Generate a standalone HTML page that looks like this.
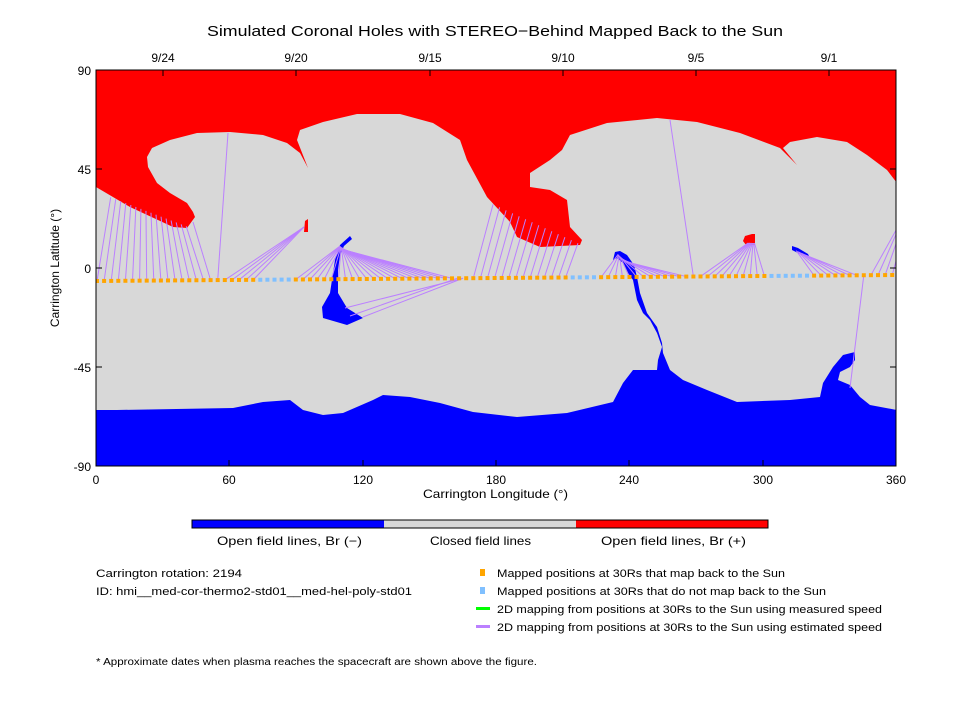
<!DOCTYPE html>
<html><head><meta charset="utf-8"><style>
body{margin:0;background:#fff;}
svg text{font-family:"Liberation Sans",sans-serif;fill:#000;}
</style></head><body>
<svg id="s" width="960" height="720" viewBox="0 0 960 720" xmlns="http://www.w3.org/2000/svg">
<rect width="960" height="720" fill="#fff"/>
<text x="207" y="36" font-size="15" textLength="576" lengthAdjust="spacingAndGlyphs">Simulated Coronal Holes with STEREO−Behind Mapped Back to the Sun</text>
<g font-size="12" text-anchor="middle">
<text x="163" y="62">9/24</text><text x="296" y="62">9/20</text><text x="430" y="62">9/15</text><text x="563" y="62">9/10</text><text x="696" y="62">9/5</text><text x="829" y="62">9/1</text>
</g>
<clipPath id="c"><rect x="96" y="70" width="800" height="396"/></clipPath>
<g clip-path="url(#c)">
<rect x="96" y="70" width="800" height="396" fill="#d8d8d8"/>
<path fill="#f00" d="M96,70 L896,70 L897,183 887,170 867,155 847,142 817,137 790,142 783,148 797,165 780,148 740,133 697,122 657,118 607,123 570,135 562,150 550,160 530,173 530,187 550,190 567,200 570,227 582,240 580,245 540,247 517,237 510,222 487,197 467,160 460,140 433,123 400,114 357,114 323,122 300,130 297,140 308,168 300,153 287,143 263,135 230,132 197,133 170,140 152,148 147,157 148,167 157,183 170,193 187,203 193,212 195,217 187,228 173,227 130,207 96,187 Z"/>
<path fill="#00f" d="M96,410 L117,410 233,408 263,402 290,400 303,410 323,415 343,413 373,400 383,395 410,397 440,403 473,412 517,417 567,413 613,402 623,383 633,370 657,370 658,360 662,347 657,333 650,320 643,313 637,300 633,280 628,273 623,263 617,258 613,260 615,252 620,251 627,255 634,265 637,277 640,293 647,313 657,327 662,343 663,353 670,370 683,380 707,390 737,402 790,400 820,397 823,383 833,367 843,355 855,352 855,360 850,367 840,372 838,380 850,385 860,397 870,405 897,410 897,467 96,467 Z"/>
<path fill="#00f" d="M350,236 L352,239 344,246 340,255 338,270 338,293 347,308 363,318 347,325 323,318 322,307 330,293 335,260 340,245 Z"/>
<path fill="#00f" d="M792,246 L798,248 808,254 810,258 800,254 792,250 Z"/>
<path fill="#f00" d="M305,221 L308,219 308,232 304,232 Z"/>
<path fill="#f00" d="M745,236 L752,234 755,234 755,245 746,245 743,241 Z"/>
<g id="lines" stroke="#bb80ff" stroke-width="1" fill="none"></g>
<g id="dots"></g>
</g>
<rect x="96" y="70" width="800" height="396" fill="none" stroke="#000" stroke-width="1"/>
<g stroke="#000" stroke-width="1" id="ticks"></g>
<g font-size="12" text-anchor="end">
<text x="91" y="75">90</text><text x="91" y="174">45</text><text x="91" y="273">0</text><text x="91" y="372">-45</text><text x="91" y="471">-90</text>
</g>
<g font-size="12" text-anchor="middle">
<text x="96" y="484">0</text><text x="229" y="484">60</text><text x="363" y="484">120</text><text x="496" y="484">180</text><text x="629" y="484">240</text><text x="763" y="484">300</text><text x="896" y="484">360</text>
</g>
<text x="423" y="498" font-size="12" textLength="145" lengthAdjust="spacingAndGlyphs">Carrington Longitude (°)</text>
<text transform="translate(59,268) rotate(-90)" font-size="12" text-anchor="middle">Carrington Latitude (°)</text>
<rect x="192" y="520" width="192" height="8" fill="#00f"/><rect x="384" y="520" width="192" height="8" fill="#d8d8d8"/><rect x="576" y="520" width="192" height="8" fill="#f00"/>
<rect x="192" y="520" width="576" height="8" fill="none" stroke="#000"/>
<g font-size="12"><text x="217" y="545" textLength="145" lengthAdjust="spacingAndGlyphs">Open field lines, Br (−)</text><text x="430" y="545" textLength="101" lengthAdjust="spacingAndGlyphs">Closed field lines</text><text x="601" y="545" textLength="145" lengthAdjust="spacingAndGlyphs">Open field lines, Br (+)</text></g>
<g font-size="11">
<text x="96" y="577" textLength="146" lengthAdjust="spacingAndGlyphs">Carrington rotation: 2194</text>
<text x="96" y="595" textLength="316" lengthAdjust="spacingAndGlyphs">ID: hmi__med-cor-thermo2-std01__med-hel-poly-std01</text>
<rect x="480" y="569" width="5" height="7" fill="#ffa500"/><text x="497" y="577" textLength="288" lengthAdjust="spacingAndGlyphs">Mapped positions at 30Rs that map back to the Sun</text>
<rect x="480" y="587" width="5" height="7" fill="#80c0ff"/><text x="497" y="595" textLength="329" lengthAdjust="spacingAndGlyphs">Mapped positions at 30Rs that do not map back to the Sun</text>
<rect x="476" y="607" width="14" height="3" fill="#00ff00"/><text x="497" y="613" textLength="385" lengthAdjust="spacingAndGlyphs">2D mapping from positions at 30Rs to the Sun using measured speed</text>
<rect x="476" y="625" width="14" height="3" fill="#bb80ff"/><text x="497" y="631" textLength="385" lengthAdjust="spacingAndGlyphs">2D mapping from positions at 30Rs to the Sun using estimated speed</text>
<text x="96" y="665" font-size="10" textLength="441" lengthAdjust="spacingAndGlyphs">* Approximate dates when plasma reaches the spacecraft are shown above the figure.</text>
</g>
<script>
var NS="http://www.w3.org/2000/svg";
function el(p,t,a){var e=document.createElementNS(NS,t);for(var k in a)e.setAttribute(k,a[k]);p.appendChild(e);return e;}
var L=document.getElementById('lines'),D=document.getElementById('dots'),T=document.getElementById('ticks');
function dy(x){return 281-(x-96)*6/800;}
function ln(x,tx,ty){el(L,'line',{x1:x,y1:dy(x),x2:tx,y2:ty});}
function isBlue(x){return (x>260&&x<292)||(x>568&&x<598)||(x>768&&x<808);}
var xs=[];for(var x=97;x<896;x+=7.1)xs.push(x);
xs.forEach(function(x){
 if(x<205){var f=(x-96)/110;ln(x,110+f*78,197+f*30);}
 else if(x<215){ln(x,193,222);}
 else if(x<222){ln(x,228,133);}
 else if(x<293&&!isBlue(x)){ln(x,304,227);}
 else if(x>=293&&x<455){ln(x,340+(x-293)/40,246+(x-293)/40);}
 else if(x>=470&&x<570){var f=(x-470)/100;ln(x,490+f*92,203+f*42);}
 else if(x>=598&&x<692){ln(x,618+(x-598)/15,254+(x-598)/12);}
 else if(x>=692&&x<700){ln(x,670,120);}
 else if(x>=700&&x<765){ln(x,748+(x-700)/10,243);}
 else if(x>=808&&x<860){ln(x,795+(x-808)/5,250+(x-808)/10);}
 else if(x>=860&&x<870){ln(x,850,388);}
 else if(x>=870){ln(x,896+(x-870)*0.6,230-(x-870)*0.8);}
});
ln(463,345,308);ln(463,363,317);ln(457,350,316);
xs.forEach(function(x){el(D,'rect',{x:x-2,y:dy(x)-2,width:4,height:4,fill:isBlue(x)?'#80c0ff':'#ffa500'});});
[163,296,430,563,696,829].forEach(function(x){el(T,'line',{x1:x,y1:70,x2:x,y2:76});});
[96,229,363,496,629,763,896].forEach(function(x){el(T,'line',{x1:x,y1:466,x2:x,y2:460});});
[169,268,367].forEach(function(y){el(T,'line',{x1:96,y1:y,x2:102,y2:y});el(T,'line',{x1:896,y1:y,x2:890,y2:y});});
</script>
</svg>
</body></html>
